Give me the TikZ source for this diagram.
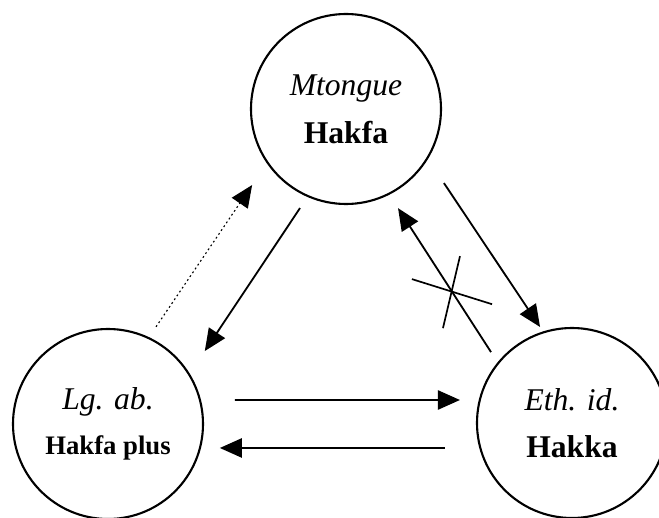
\documentclass[tikz,border=0pt]{standalone}
\usepackage{fontspec}
\setmainfont{Liberation Serif}
\usetikzlibrary{arrows.meta}

\begin{document}
\begin{tikzpicture}[
    lang/.style={draw,circle,line width=1.5pt,minimum size=4.75cm,inner sep=0pt,
                 align=center,font=\fontsize{22.5}{34}\selectfont},
    arr/.style={-{Triangle[length=0.55cm,width=0.48cm]},line width=1.3pt}]
  \useasboundingbox (0,0) rectangle (16.475,12.925);
  % the three circles
  \node[lang] (mt) at (8.65,10.2) {\textit{Mtongue}\\\textbf{Hakfa}};
  \node[lang] (lg) at (2.7,2.325)
    {\textit{Lg. ab.}\\[-2pt]{\fontsize{19}{19}\selectfont\textbf{Hakfa plus}}};
  \node[lang] (eth) at (14.3,2.35) {\textit{Eth. id.}\\[-1pt]\textbf{Hakka}};
  % arrows between them
  \draw[arr,dotted,line width=0.8pt] ([shift={(63.7:2.71)}]lg.center)
    -- ([shift={(219:3.02)}]mt.center);
  \draw[arr] ([shift={(245.1:2.73)}]mt.center) -- ([shift={(37:3.03)}]lg.center);
  \draw[arr] ([shift={(138.8:2.69)}]eth.center) -- coordinate[pos=0.42] (blk)
    ([shift={(297.7:2.8)}]mt.center);
  \draw[arr] ([shift={(322.9:3.07)}]mt.center) -- ([shift={(108.4:2.53)}]eth.center);
  \draw[arr] ([shift={(10.7:3.23)}]lg.center) -- ([shift={(168.4:2.86)}]eth.center);
  \draw[arr] ([shift={(191.1:3.24)}]eth.center) -- ([shift={(347.9:2.86)}]lg.center);
  % cross on the way back up
  \draw[line width=1.2pt] ([shift={(162.6:1.05)}]blk) -- ([shift={(-17.4:1.05)}]blk);
  \draw[line width=1.2pt] ([shift={(77.3:0.91)}]blk) -- ([shift={(256.1:0.94)}]blk);
\end{tikzpicture}
\end{document}
